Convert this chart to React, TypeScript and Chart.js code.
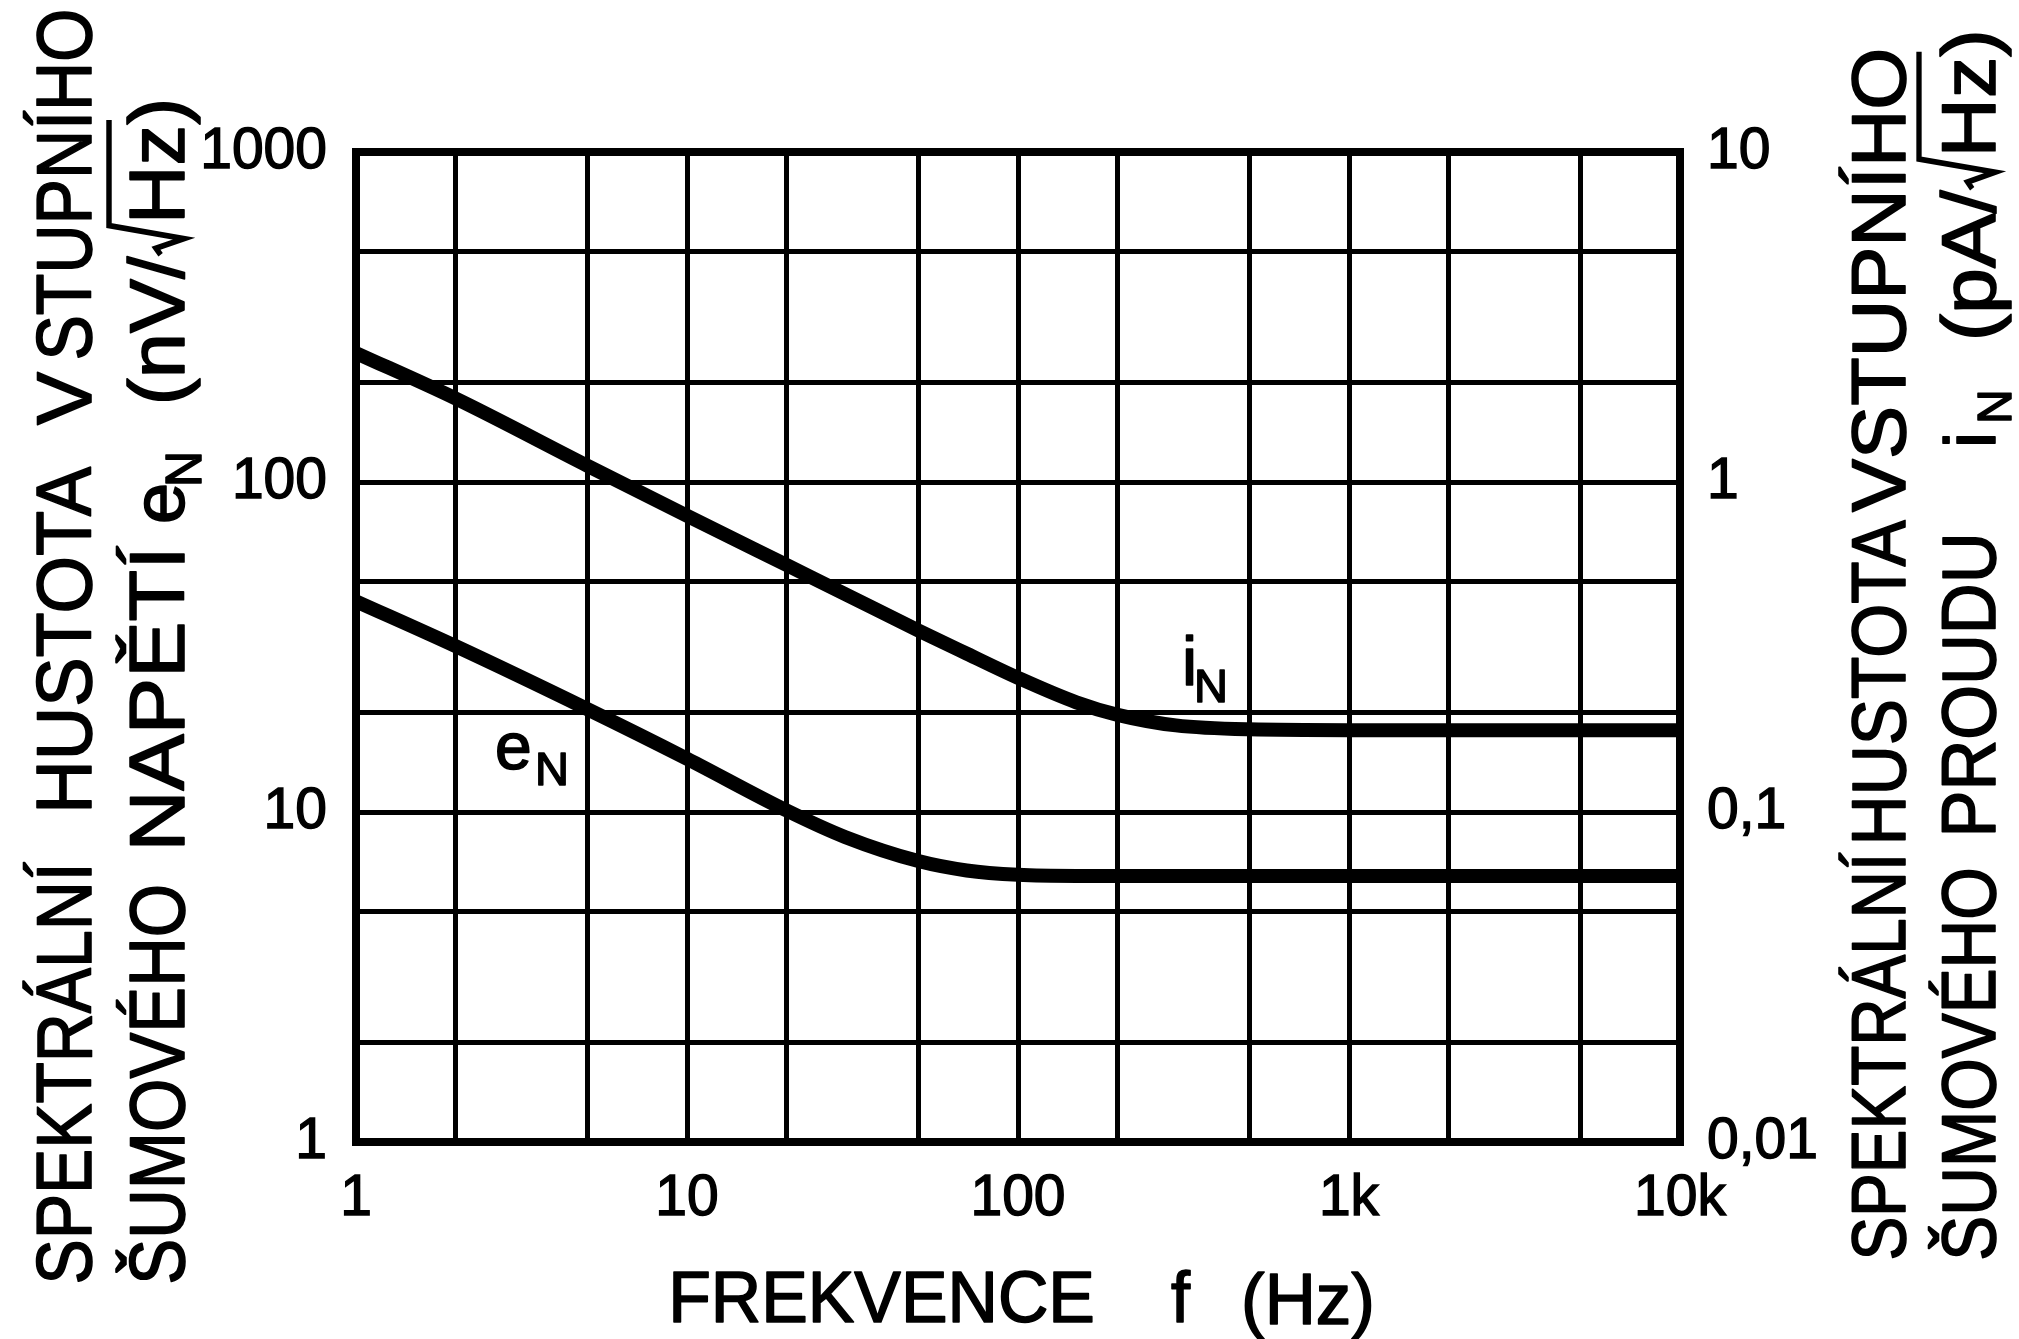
import React, { useEffect, useRef } from 'react';
import { Chart, registerables } from 'chart.js';

Chart.register(...registerables);

// ---- data ----
const frequencies = [1, 2, 5, 10, 20, 30, 50, 70, 100, 150, 200, 300, 500, 1000, 2000, 5000, 10000];
// input noise voltage density e_N (nV/sqrt(Hz)) – left axis
const eNoise = [43.5, 31.8, 20.5, 14.5, 10.1, 8.4, 7.1, 6.65, 6.45, 6.4, 6.4, 6.4, 6.4, 6.4, 6.4, 6.4, 6.4];
// input noise current density i_N (pA/sqrt(Hz)) – right axis
const iNoise = [2.46, 1.79, 1.12, 0.79, 0.56, 0.458, 0.355, 0.302, 0.255, 0.215, 0.197, 0.183, 0.178, 0.177, 0.177, 0.177, 0.177];

const xGridValues = [1, 2, 5, 10, 20, 50, 100, 200, 500, 1000, 2000, 5000, 10000];
const xLabelValues = [1, 10, 100, 1000, 10000];
const xLabelTexts = ['1', '10', '100', '1k', '10k'];
const yGridValues = [1, 2, 5, 10, 20, 50, 100, 200, 500, 1000];
const yLabelValues = [1, 10, 100, 1000];
const yLabelTexts = ['1', '10', '100', '1000'];
const y2LabelValues = [0.01, 0.1, 1, 10];
const y2LabelTexts = ['0,01', '0,1', '1', '10'];

const FONT = '"Liberation Sans", Arial, Helvetica, sans-serif';
const W = 2019;
const H = 1339;
const TEXT_STROKE = 1.6;

function labelFor(values: number[], texts: string[]) {
  return (value: any) => {
    const v = Number(value);
    const i = values.findIndex((t) => Math.abs(t - v) <= t * 1e-6);
    return i >= 0 ? texts[i] : '';
  };
}

function paint(ctx: CanvasRenderingContext2D, text: string, x: number, y: number) {
  ctx.fillText(text, x, y);
  ctx.strokeText(text, x, y);
}

function setup(ctx: CanvasRenderingContext2D, size: number) {
  ctx.font = `${size}px ${FONT}`;
  ctx.textAlign = 'left';
  ctx.textBaseline = 'alphabetic';
  ctx.fillStyle = '#000';
  ctx.strokeStyle = '#000';
  ctx.lineWidth = TEXT_STROKE;
  ctx.lineJoin = 'round';
}

// draw text fitted between from..to along its direction (ink extents)
function fitText(ctx: CanvasRenderingContext2D, text: string, size: number, base: number, from: number, to: number, rotated: boolean) {
  ctx.save();
  setup(ctx, size);
  const m = ctx.measureText(text);
  const ink = m.actualBoundingBoxLeft + m.actualBoundingBoxRight;
  const k = Math.abs(to - from) / ink;
  if (rotated) {
    ctx.translate(base, from);
    ctx.rotate(-Math.PI / 2);
  } else {
    ctx.translate(from, base);
  }
  ctx.scale(k, 1);
  paint(ctx, text, m.actualBoundingBoxLeft, 0);
  ctx.restore();
}

function plainText(ctx: CanvasRenderingContext2D, text: string, size: number, base: number, from: number, rotated: boolean) {
  ctx.save();
  setup(ctx, size);
  const m = ctx.measureText(text);
  if (rotated) {
    ctx.translate(base, from);
    ctx.rotate(-Math.PI / 2);
  } else {
    ctx.translate(from, base);
  }
  paint(ctx, text, m.actualBoundingBoxLeft, 0);
  ctx.restore();
}

// "(xx/√Hz)" with a hand-drawn radical whose bar runs over Hz
function radicalText(ctx: CanvasRenderingContext2D, pre: string, size: number, base: number, from: number, to: number, overH: number) {
  ctx.save();
  setup(ctx, size);
  const mPre = ctx.measureText(pre);
  const wPre = mPre.width;
  const wR = size * 0.4;
  const mPost = ctx.measureText('Hz)');
  const wHz = ctx.measureText('Hz').width;
  const inkStart = mPre.actualBoundingBoxLeft;
  const total = inkStart + wPre + wR + mPost.actualBoundingBoxRight;
  const k = Math.abs(to - from) / total;
  ctx.translate(base, from);
  ctx.rotate(-Math.PI / 2);
  ctx.scale(k, 1);
  paint(ctx, pre, inkStart, 0);
  const xHz = inkStart + wPre + wR;
  paint(ctx, 'Hz)', xHz, 0);
  const xr = inkStart + wPre + size * 0.02;
  ctx.lineWidth = size * 0.07;
  ctx.lineJoin = 'miter';
  ctx.lineCap = 'butt';
  ctx.beginPath();
  ctx.moveTo(xr, -size * 0.3);
  ctx.lineTo(xr + size * 0.08, -size * 0.36);
  ctx.lineTo(xr + size * 0.2, 0);
  ctx.lineTo(xr + size * 0.36, -overH);
  ctx.lineTo(xHz + wHz + size * 0.06, -overH);
  ctx.stroke();
  ctx.restore();
}

const titlePlugin = {
  id: 'noiseTitles',
  afterDraw(chart: any) {
    const ctx: CanvasRenderingContext2D = chart.ctx;
    ctx.save();
    // x title
    fitText(ctx, 'FREKVENCE', 72, 1322, 673, 1092, false);
    fitText(ctx, 'f', 72, 1322, 1172, 1191, false);
    fitText(ctx, '(Hz)', 72, 1324, 1245, 1371, false);

    // left title, line 1
    const L = 78;
    fitText(ctx, 'SPEKTRÁLNÍ', L, 91, 1282, 862, true);
    fitText(ctx, 'HUSTOTA', L, 91, 808, 467, true);
    fitText(ctx, 'V', L, 91, 425, 372, true);
    fitText(ctx, 'STUPNÍHO', L, 91, 358, 12, true);
    // left title, line 2
    fitText(ctx, 'ŠUMOVÉHO', L, 184, 1282, 887, true);
    fitText(ctx, 'NAPĚTÍ', L, 184, 845, 546, true);
    plainText(ctx, 'e', 74, 184, 521, true);
    plainText(ctx, 'N', 50, 201, 483, true);
    radicalText(ctx, '(nV/', L, 184, 401, 102, 75);

    // right title, line 1
    const R = 76;
    fitText(ctx, 'SPEKTRÁLNÍ', R, 1905, 1258, 853, true);
    fitText(ctx, 'HUSTOTA', R, 1905, 840, 520, true);
    fitText(ctx, 'VSTUPNÍHO', R, 1905, 512, 51, true);
    // right title, line 2
    fitText(ctx, 'ŠUMOVÉHO', R, 1995, 1258, 870, true);
    fitText(ctx, 'PROUDU', R, 1995, 832, 537, true);
    plainText(ctx, 'i', 72, 1995, 444, true);
    plainText(ctx, 'N', 48, 2011, 421, true);
    radicalText(ctx, '(pA/', R, 1995, 337, 34, 76);

    // curve labels
    plainText(ctx, 'e', 66, 769, 497, false);
    plainText(ctx, 'N', 47, 785, 538, false);
    plainText(ctx, 'i', 68, 685, 1186, false);
    plainText(ctx, 'N', 47, 702, 1197, false);
    ctx.restore();
  },
};

export default function App() {
  const ref = useRef<HTMLCanvasElement | null>(null);

  useEffect(() => {
    if (!ref.current) return;
    const tickFont = { family: FONT, size: 57 };
    const curve = {
      borderColor: '#000',
      borderWidth: 14,
      pointRadius: 0,
      cubicInterpolationMode: 'monotone',
      borderJoinStyle: 'round',
      fill: false,
    };
    const chart = new Chart(ref.current, {
      type: 'line',
      data: {
        datasets: [
          {
            ...curve,
            label: 'eN',
            data: frequencies.map((f, i) => ({ x: f, y: eNoise[i] })),
            yAxisID: 'y',
          },
          {
            ...curve,
            label: 'iN',
            data: frequencies.map((f, i) => ({ x: f, y: iNoise[i] })),
            yAxisID: 'y2',
          },
        ],
      },
      options: {
        responsive: false,
        maintainAspectRatio: false,
        devicePixelRatio: 1,
        animation: false,
        events: [],
        layout: { padding: { top: 152, left: 0, right: 0, bottom: 0 } },
        plugins: { legend: { display: false }, tooltip: { enabled: false }, title: { display: false } },
        scales: {
          x: {
            type: 'logarithmic',
            position: 'bottom',
            min: 1,
            max: 10000,
            afterBuildTicks: (s: any) => {
              s.ticks = xGridValues.map((v) => ({ value: v }));
            },
            afterFit: (s: any) => {
              s.height = H - 1142;
            },
            grid: {
              color: '#000',
              lineWidth: (c: any) => (c.tick && (c.tick.value === 1 || c.tick.value === 10000) ? 8 : 5),
              drawTicks: false,
            },
            border: { display: true, color: '#000', width: 8 },
            ticks: {
              autoSkip: false,
              maxRotation: 0,
              minRotation: 0,
              padding: 23,
              color: '#000',
              textStrokeColor: '#000',
              textStrokeWidth: 1.4,
              font: tickFont,
              callback: labelFor(xLabelValues, xLabelTexts),
            },
          },
          y: {
            type: 'logarithmic',
            position: 'left',
            min: 1,
            max: 1000,
            afterBuildTicks: (s: any) => {
              s.ticks = yGridValues.map((v) => ({ value: v }));
            },
            afterFit: (s: any) => {
              s.width = 356;
            },
            grid: {
              color: '#000',
              lineWidth: (c: any) => (c.tick && (c.tick.value === 1 || c.tick.value === 1000) ? 8 : 5),
              drawTicks: false,
            },
            border: { display: true, color: '#000', width: 8 },
            ticks: {
              autoSkip: false,
              padding: 29,
              color: '#000',
              textStrokeColor: '#000',
              textStrokeWidth: 1.4,
              font: tickFont,
              callback: labelFor(yLabelValues, yLabelTexts),
            },
          },
          y2: {
            type: 'logarithmic',
            position: 'right',
            min: 0.01,
            max: 10,
            afterBuildTicks: (s: any) => {
              s.ticks = y2LabelValues.map((v) => ({ value: v }));
            },
            afterFit: (s: any) => {
              s.width = W - 1680;
            },
            grid: { display: true, drawOnChartArea: false, drawTicks: false, color: '#000' },
            border: { display: true, color: '#000', width: 8 },
            ticks: {
              autoSkip: false,
              padding: 27,
              color: '#000',
              textStrokeColor: '#000',
              textStrokeWidth: 1.4,
              font: tickFont,
              callback: labelFor(y2LabelValues, y2LabelTexts),
            },
          },
        },
      } as any,
      plugins: [titlePlugin],
    });
    return () => chart.destroy();
  }, []);

  return (
    <div style={{ position: 'absolute', left: 0, top: 0, width: W, height: H, background: '#fff' }}>
      <canvas ref={ref} width={W} height={H} style={{ display: 'block', width: W, height: H }} />
    </div>
  );
}
